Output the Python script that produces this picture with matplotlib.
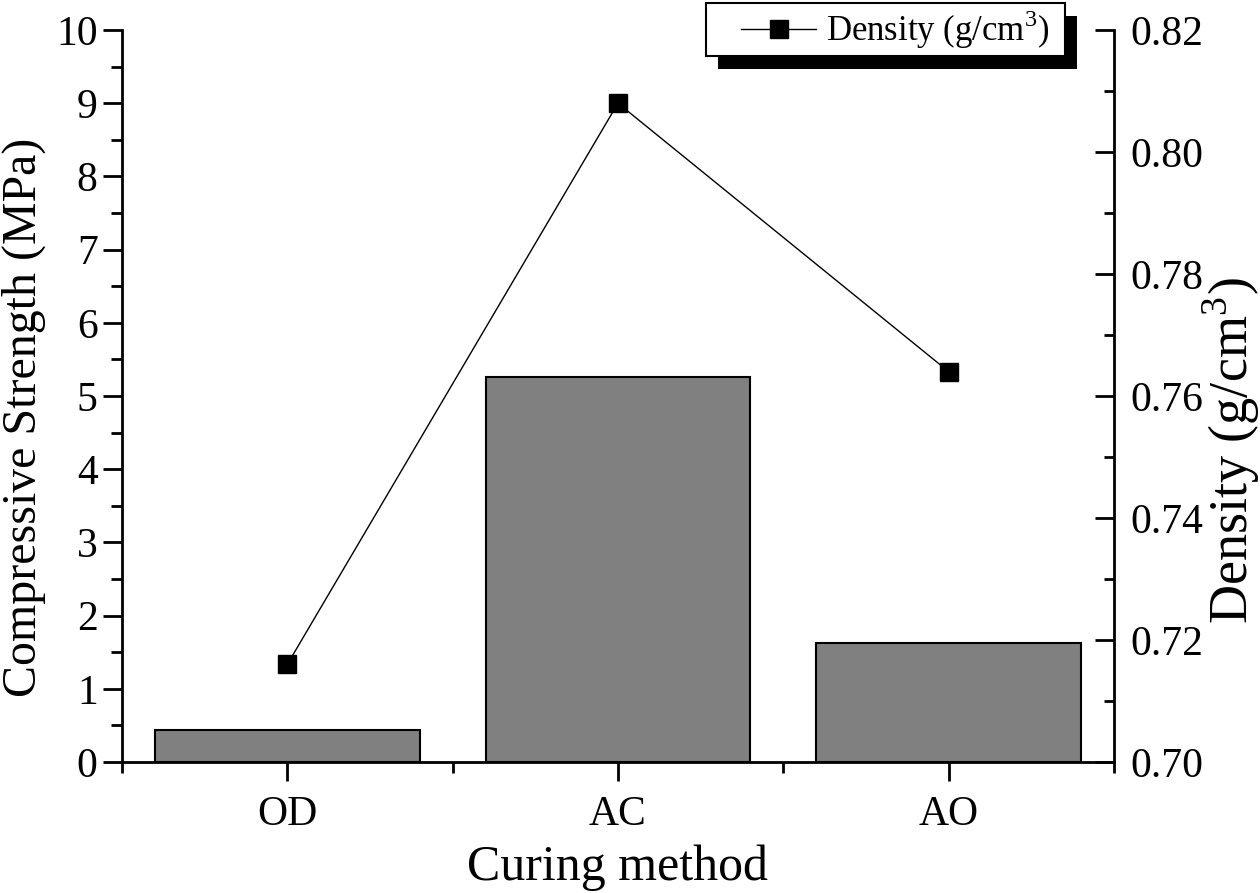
import numpy as np
import matplotlib
matplotlib.use("Agg")
import matplotlib.pyplot as plt
from matplotlib.patches import Rectangle
from matplotlib.transforms import IdentityTransform
from matplotlib.legend_handler import HandlerLine2D

plt.rcParams['font.family'] = ['Liberation Serif', 'DejaVu Serif']
plt.rcParams['mathtext.fontset'] = 'custom'
plt.rcParams['mathtext.rm'] = 'Liberation Serif'

# data
methods = ["OD", "AC", "AO"]
strength = [0.44, 5.26, 1.63]      # MPa
density = [0.716, 0.808, 0.764]    # g/cm3


# legend handle with some empty room on its left
class PaddedLine(HandlerLine2D):
    def create_artists(self, legend, orig_handle, xdescent, ydescent,
                       width, height, fontsize, trans):
        pad = 0.86 * fontsize
        return super().create_artists(legend, orig_handle, xdescent - pad, ydescent,
                                      width - pad, height, fontsize, trans)


x = np.arange(len(methods))

fig = plt.figure(figsize=(12.6, 8.93), dpi=100)
ax = fig.add_axes([0.0968, 0.1467, 0.7873, 0.8197])

# bars for compressive strength
ax.bar(x, strength, width=0.8, color="#808080", edgecolor="black", linewidth=1.5, zorder=2)
ax.set_xlim(-0.5, 2.5)
ax.set_ylim(0, 10)
ax.set_xticks(x)
ax.set_xticklabels(methods)
ax.set_xticks([-0.5, 0.5, 1.5, 2.5], minor=True)
ax.set_yticks(np.arange(0, 11, 1))
ax.set_yticks(np.arange(0.5, 10, 1), minor=True)
ax.tick_params(axis="both", which="major", direction="out", length=14, width=2, labelsize=30)
ax.tick_params(axis="both", which="minor", direction="out", length=8, width=2)
ax.tick_params(axis="x", pad=10)
ax.set_xlabel("Curing method", fontsize=36)
ax.xaxis.set_label_coords(0.5, -0.113)
ax.set_ylabel("Compressive Strength (MPa)", fontsize=34.5)
ax.yaxis.set_label_coords(-0.077, 0.471)
ax.spines["top"].set_visible(False)
ax.spines["right"].set_visible(False)
for s in ["left", "bottom"]:
    ax.spines[s].set_linewidth(2)

# density line on the second axis
ax2 = ax.twinx()
ax2.plot(x, density, color="black", linewidth=1, marker="s", markersize=13,
         label="Density (g/cm$^3$)  ")
ax2.set_ylim(0.70, 0.82)
ax2.set_yticks(np.arange(0.70, 0.8201, 0.02))
ax2.set_yticks(np.arange(0.71, 0.82, 0.02), minor=True)
ax2.yaxis.set_major_formatter(matplotlib.ticker.FormatStrFormatter("%.2f"))
ax2.tick_params(axis="y", which="major", direction="in", length=14, width=2, labelsize=30, pad=12)
ax2.tick_params(axis="y", which="minor", direction="in", length=7, width=2)
ax2.set_ylabel("Density (g/cm$^3$)", fontsize=39)
ax2.yaxis.set_label_coords(1.087, 0.426)
ax2.spines["top"].set_visible(False)
ax2.spines["left"].set_visible(False)
ax2.spines["bottom"].set_visible(False)
ax2.spines["right"].set_linewidth(2)

leg = ax2.legend(loc="upper right", bbox_to_anchor=(0.9506, 1.037), fontsize=25,
                 frameon=True, fancybox=False, framealpha=1, edgecolor="black",
                 handlelength=3.0, borderpad=0.15, handletextpad=0.3, borderaxespad=0,
                 handler_map={matplotlib.lines.Line2D: PaddedLine()})
leg.get_frame().set_linewidth(1.5)
leg.set_zorder(10)

# offset black shadow behind the legend box
fig.canvas.draw()
bb = leg.get_window_extent()
shadow = Rectangle((bb.x0 + 12, bb.y0 - 13), bb.width, bb.height,
                   transform=IdentityTransform(), facecolor="black",
                   edgecolor="none", zorder=9, clip_on=False)
ax2.add_artist(shadow)

fig.savefig("out.png", dpi=100)
